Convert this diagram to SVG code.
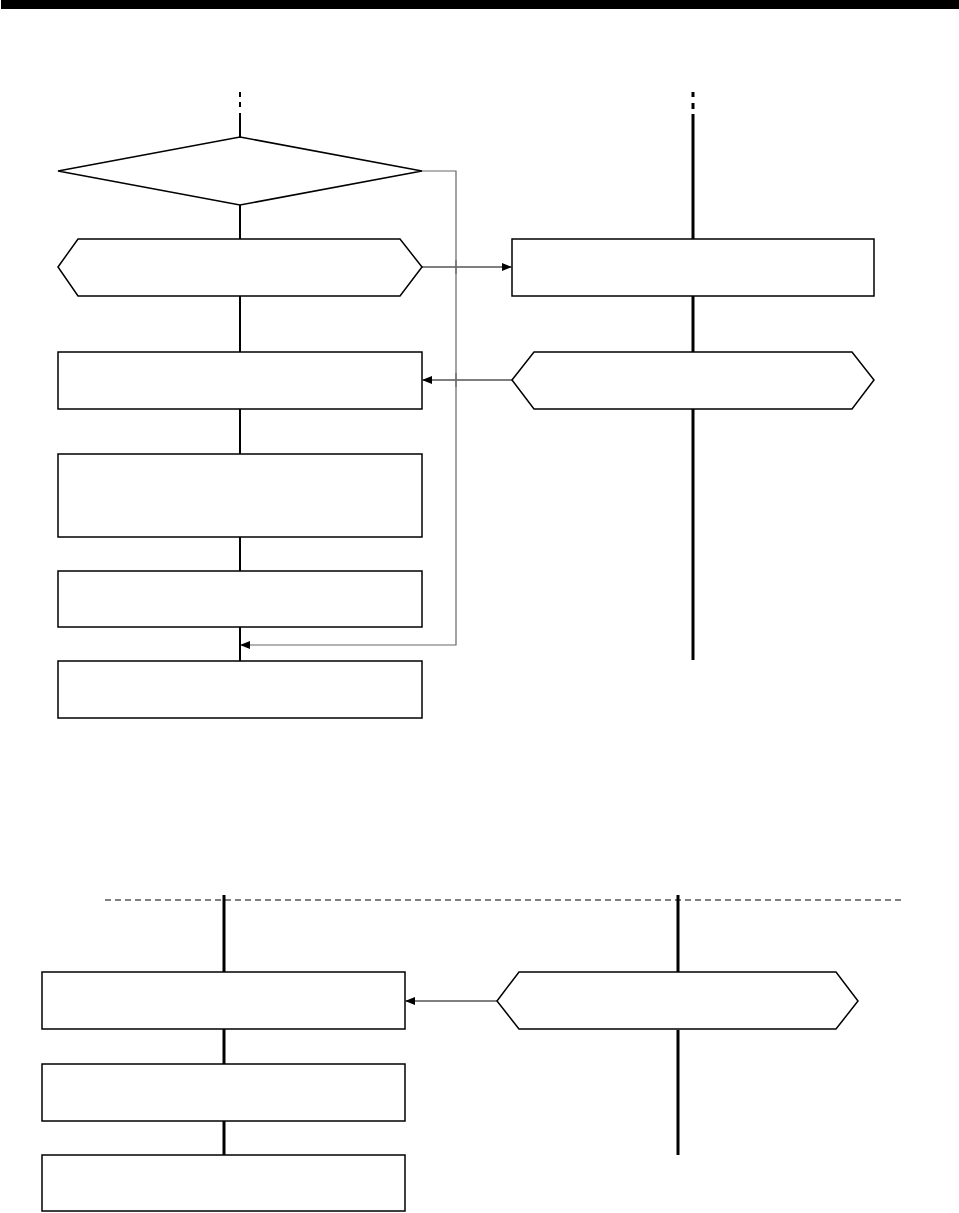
<svg xmlns="http://www.w3.org/2000/svg" width="959" height="1213" viewBox="0 0 959 1213">
<style>
.box{fill:#fff;stroke:#000;stroke-width:1.5}
.ln{stroke:#000;fill:none}
.arr{stroke:#000;stroke-width:1.2;fill:none;marker-end:url(#ah)}
.gray{stroke:#666;stroke-width:1.2;fill:none}
</style>
<defs>
<marker id="ah" markerWidth="10" markerHeight="8" refX="9" refY="4" orient="auto" markerUnits="userSpaceOnUse">
<path d="M0,0 L10,4 L0,8 Z" fill="#000"/>
</marker>
</defs>
<rect x="1" y="0" width="958" height="9" fill="#000"/>
<g id="connectors">
<path class="ln" stroke-width="2" d="M240,92V97M240,102V107M240,113V137M240,205V239M240,296V352M240,409V454M240,537V571M240,627V661"/>
<path class="ln" stroke-width="3" d="M693,92V97M693,103V109M693,114V239M693,296V352M693,409V660"/>
<path class="arr" d="M422,267H511"/>
<path class="arr" d="M512,380H423"/>
<path class="gray" d="M422,171H456V645H241" marker-end="url(#ah)"/>
<path class="ln" stroke-width="1.2" stroke-dasharray="6,4" d="M105,900H905"/>
<path class="ln" stroke-width="3" d="M224,895V972M224,1029V1064M224,1121V1155M678,895V972M678,1030V1155"/>
<path class="arr" d="M497,1001H406"/>
</g>
<g id="n1"><polygon class="box" points="240,137 422,171 240,205 58,171"/></g>
<g id="n2"><polygon class="box" points="58,267 78,239 400,239 422,267 400,296 78,296"/></g>
<g id="n3"><rect class="box" x="512" y="239" width="362" height="57" stroke="#444"/></g>
<g id="n4"><rect class="box" x="58" y="352" width="364" height="57"/></g>
<g id="n5"><polygon class="box" points="512,380 534,352 852,352 874,380 852,409 534,409"/></g>
<g id="n6"><rect class="box" x="58" y="454" width="364" height="83"/></g>
<g id="n7"><rect class="box" x="58" y="571" width="364" height="56"/></g>
<g id="n8"><rect class="box" x="58" y="661" width="364" height="57"/></g>
<g id="n9"><rect class="box" x="42" y="972" width="363" height="57"/></g>
<g id="n10"><polygon class="box" points="497,1001 519,972 836,972 858,1001 836,1029 519,1029"/></g>
<g id="n11"><rect class="box" x="42" y="1064" width="363" height="57"/></g>
<g id="n12"><rect class="box" x="42" y="1155" width="363" height="56"/></g>
<path class="gray" d="M456,260V274M456,373V387"/>
</svg>
